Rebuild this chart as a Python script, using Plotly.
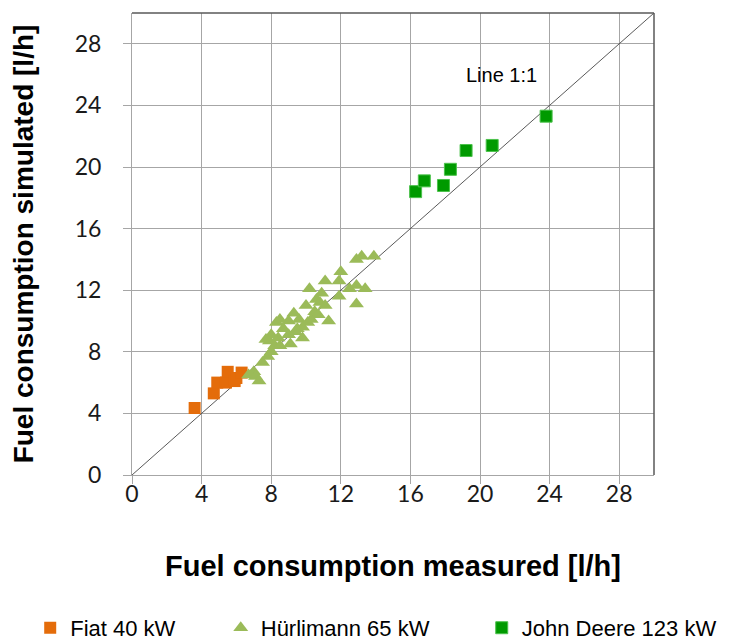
import plotly.graph_objects as go

# Fiat 40 kW
fiat_measured = [3.6, 4.7, 4.9, 5.4, 5.5, 5.9, 6.0, 6.3]
fiat_simulated = [4.35, 5.3, 6.0, 6.0, 6.7, 6.1, 6.3, 6.65]

# Hürlimann 65 kW
huer_measured = [
    6.7, 7.0, 7.1, 7.3, 7.5, 7.8, 7.9, 8.0, 8.2, 8.3, 8.5, 8.4, 8.5, 8.7, 9.0, 9.1,
    9.0, 9.3, 9.4, 9.5, 9.6, 9.8, 9.8, 10.0, 10.1, 10.2, 10.3, 10.5, 10.6, 10.7,
    10.8, 10.9, 11.1, 11.1, 11.3, 11.9, 11.9, 12.0, 12.5, 12.9, 12.9, 12.9, 13.2,
    13.4, 13.9, 8.0, 7.7,
]
huer_simulated = [
    6.5, 6.7, 6.4, 6.1, 7.3, 7.7, 8.7, 8.0, 8.4, 9.9, 10.1, 8.9, 8.4, 9.5, 9.1, 8.5,
    10.0, 10.5, 9.3, 9.5, 10.1, 9.6, 8.9, 11.0, 9.9, 12.1, 10.1, 10.6, 11.4, 10.4,
    11.2, 11.8, 11.0, 12.6, 10.0, 12.6, 11.6, 13.2, 12.1, 12.3, 11.1, 14.0, 14.2,
    12.1, 14.2, 9.1, 8.8,
]

# John Deere 123 kW
jd_measured = [16.3, 16.8, 17.9, 18.3, 19.2, 20.7, 23.8]
jd_simulated = [18.4, 19.1, 18.8, 19.85, 21.07, 21.4, 23.3]

line_11 = [0, 30]
tick_vals = [0, 4, 8, 12, 16, 20, 24, 28]

fig = go.Figure()

fig.add_trace(
    go.Scatter(
        x=line_11, y=line_11, mode="lines",
        line={"color": "#595959", "width": 1},
        showlegend=False, hoverinfo="skip",
    )
)
fig.add_trace(
    go.Scatter(
        x=fiat_measured, y=fiat_simulated, mode="markers", name="Fiat 40 kW",
        marker={"symbol": "square", "size": 12, "color": "#E46C0A",
                "line": {"width": 0}},
        legend="legend",
    )
)
fig.add_trace(
    go.Scatter(
        x=huer_measured, y=huer_simulated, mode="markers", name="Hürlimann 65 kW",
        marker={"symbol": "triangle-up", "size": 13, "color": "#9BBB59",
                "line": {"width": 0}},
        legend="legend2",
    )
)
fig.add_trace(
    go.Scatter(
        x=jd_measured, y=jd_simulated, mode="markers", name="John Deere 123 kW",
        marker={"symbol": "square", "size": 12, "color": "#009A00",
                "line": {"width": 1, "color": "#4CC24C"}},
        legend="legend3",
    )
)

fig.add_annotation(
    x=19.1, y=26.0, text="Line 1:1", showarrow=False, xanchor="left",
    font={"family": "Liberation Sans, Arial", "size": 20, "color": "#000"},
)

# dark plot-area border on top and right
fig.add_shape(type="line", xref="x domain", yref="y domain", x0=0, x1=1, y0=1, y1=1,
              line={"color": "#595959", "width": 1.5})
fig.add_shape(type="line", xref="x domain", yref="y domain", x0=1, x1=1, y0=0, y1=1,
              line={"color": "#595959", "width": 1.5})

axis_common = dict(
    range=[0, 30], tickvals=tick_vals, showgrid=True, gridcolor="#A6A6A6",
    gridwidth=1, zeroline=False, showline=True, linecolor="#A6A6A6", linewidth=1,
    ticks="outside", ticklen=8, tickcolor="#A6A6A6",
    tickfont={"family": "Lato, Carlito, sans-serif", "size": 23, "color": "#1a1a1a"},
)
fig.update_xaxes(
    **axis_common, ticklabelstandoff=-10,
    title_text="<b>Fuel consumption measured [l/h]</b>", title_standoff=50,
    title_font={"family": "Liberation Sans, Arial", "size": 29, "color": "#000"},
)
fig.update_yaxes(
    **axis_common, ticklabelstandoff=17,
    title_text="<b>Fuel consumption simulated [l/h]</b>", title_standoff=32,
    title_font={"family": "Liberation Sans, Arial", "size": 28, "color": "#000"},
)

legend_style = dict(
    orientation="h", yanchor="middle", y=-0.331, xanchor="left",
    font={"family": "Liberation Sans, Arial", "size": 22, "color": "#000"},
    bgcolor="rgba(0,0,0,0)", itemwidth=30,
)
fig.update_layout(
    width=733, height=641,
    margin={"l": 124, "r": 87, "t": 5, "b": 174, "autoexpand": False},
    plot_bgcolor="#ffffff", paper_bgcolor="#ffffff",
    legend={**legend_style, "x": -0.195},
    legend2={**legend_style, "x": 0.17},
    legend3={**legend_style, "x": 0.67},
)

fig.write_html("out.html")
